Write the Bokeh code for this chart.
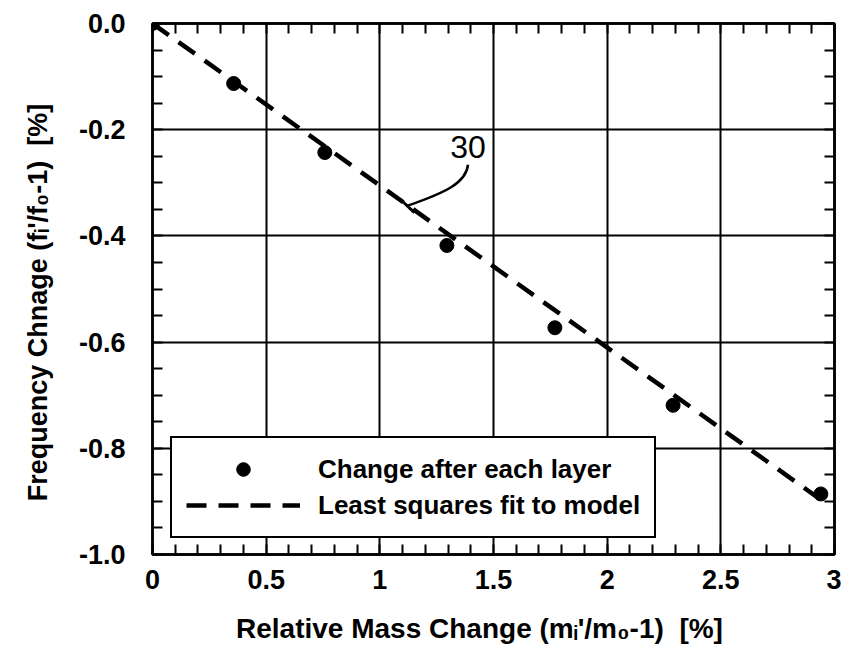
from bokeh.plotting import figure
from bokeh.models import (Range1d, LinearAxis, FixedTicker, Legend, LegendItem,
                          CustomJSTickFormatter)
from bokeh.core.properties import value
from bokeh.embed import file_html
from bokeh.resources import INLINE

# ---- data ----
mass_change = [0.0, 0.357, 0.758, 1.295, 1.77, 2.29, 2.94]
freq_change = [0.0, -0.113, -0.243, -0.418, -0.573, -0.719, -0.886]
fit_x = [0.0, 2.95]
fit_y = [0.0, -0.90]

x_ticks = [0, 0.5, 1, 1.5, 2, 2.5, 3]
x_tick_labels = ["0", "0.5", "1", "1.5", "2", "2.5", "3"]
y_ticks = [0.0, -0.2, -0.4, -0.6, -0.8, -1.0]
y_tick_labels = ["0.0", "-0.2", "-0.4", "-0.6", "-0.8", "-1.0"]
x_minor = [i / 10 for i in range(31)]
y_minor = [-i / 20 for i in range(21)]

annot_text = ["30"]
annot_x = [1.388]
annot_y = [-0.232]
leader_x0, leader_y0 = [1.388], [-0.266]
leader_cx0, leader_cy0 = [1.379], [-0.300]
leader_cx1, leader_cy1 = [1.291], [-0.318]
leader_x1, leader_y1 = [1.123], [-0.343]
leader_tick_x = [1.090, 1.152]
leader_tick_y = [-0.331, -0.356]

legend_labels = ["Change after each layer", "Least squares fit to model"]
x_title = "Relative Mass Change (m\u1d62'/m\u2080-1)\u00a0 [%]\u2002\u2002"
y_title = "Frequency Chnage (f\u1d62'/f\u2080-1)\u00a0 [%]\u2002\u2002"

TICK_FONT = "Liberation Sans"
TEXT_FONT = "Liberation Sans"

p = figure(width=841, height=649, x_range=Range1d(0, 3), y_range=Range1d(-1, 0),
           output_backend="svg", toolbar_location=None,
           min_border_left=152, min_border_right=7, min_border_top=23,
           min_border_bottom=95)

p.background_fill_color = "white"
p.border_fill_color = "white"
p.outline_line_color = "black"
p.outline_line_width = 2.5
p.outline_line_alpha = 1


def fmt(tvals, tlabels):
    return CustomJSTickFormatter(args=dict(tvals=tvals, tlabels=tlabels), code="""
        for (let i = 0; i < tvals.length; i++) {
            if (Math.abs(tick - tvals[i]) < 1e-6) return tlabels[i];
        }
        return '';
    """)


def style_axis(ax):
    ax.axis_line_color = "black"
    ax.axis_line_width = 2.5
    ax.major_tick_in = 0
    ax.major_tick_out = 0
    ax.minor_tick_in = 10
    ax.minor_tick_out = 0
    ax.minor_tick_line_color = "black"
    ax.minor_tick_line_width = 2
    ax.major_label_text_font = TICK_FONT
    ax.major_label_text_font_style = "bold"
    ax.major_label_text_font_size = "27px"
    ax.major_label_text_color = "black"
    ax.axis_label_text_font = TEXT_FONT
    ax.axis_label_text_font_style = "bold"
    ax.axis_label_text_color = "black"


xax = p.xaxis[0]
xax.ticker = FixedTicker(ticks=x_ticks, minor_ticks=x_minor)
xax.formatter = fmt(x_ticks, x_tick_labels)
style_axis(xax)
xax.major_label_standoff = 15
xax.axis_label = x_title
xax.axis_label_text_font_size = "28px"
xax.axis_label_standoff = 21

yax = p.yaxis[0]
yax.ticker = FixedTicker(ticks=y_ticks, minor_ticks=y_minor)
yax.formatter = fmt(y_ticks, y_tick_labels)
style_axis(yax)
yax.major_label_standoff = 27
yax.axis_label = y_title
yax.axis_label_text_font_size = "27px"
yax.axis_label_standoff = 23

# top and right frame ticks (minor ticks only, no labels)
top = LinearAxis(ticker=FixedTicker(ticks=[], minor_ticks=x_minor))
style_axis(top)
p.add_layout(top, "above")
right = LinearAxis(ticker=FixedTicker(ticks=[], minor_ticks=y_minor))
style_axis(right)
p.add_layout(right, "right")

p.xgrid.ticker = FixedTicker(ticks=x_ticks)
p.ygrid.ticker = FixedTicker(ticks=y_ticks)
for g in (p.xgrid, p.ygrid):
    g.grid_line_color = "black"
    g.grid_line_width = 2
    g.grid_line_alpha = 1

fit = p.line(fit_x, fit_y, line_color="black", line_width=4.5, line_dash="20 12")
pts = p.scatter(mass_change, freq_change, size=14, fill_color="black", line_color="black")

p.text(x=annot_x, y=annot_y, text=annot_text, text_font=value(TEXT_FONT),
       text_font_size="32px", text_align="center", text_baseline="middle",
       text_color="black")
p.bezier(x0=leader_x0, y0=leader_y0, x1=leader_x1, y1=leader_y1,
         cx0=leader_cx0, cy0=leader_cy0, cx1=leader_cx1, cy1=leader_cy1,
         line_color="black", line_width=2.5)
p.line(leader_tick_x, leader_tick_y, line_color="black", line_width=3)

legend = Legend(items=[LegendItem(label=legend_labels[0], renderers=[pts]),
                       LegendItem(label=legend_labels[1], renderers=[fit])],
                location=(18, 16), padding=14, spacing=2, margin=0,
                glyph_width=114, glyph_height=34, label_height=34,
                label_standoff=18,
                border_line_color="black", border_line_width=2.5,
                border_line_alpha=1,
                background_fill_color="white", background_fill_alpha=1,
                label_text_font=TEXT_FONT, label_text_font_style="bold",
                label_text_font_size="26px", label_text_color="black")
p.add_layout(legend, "center")

open("out.html", "w").write(file_html(p, INLINE))
